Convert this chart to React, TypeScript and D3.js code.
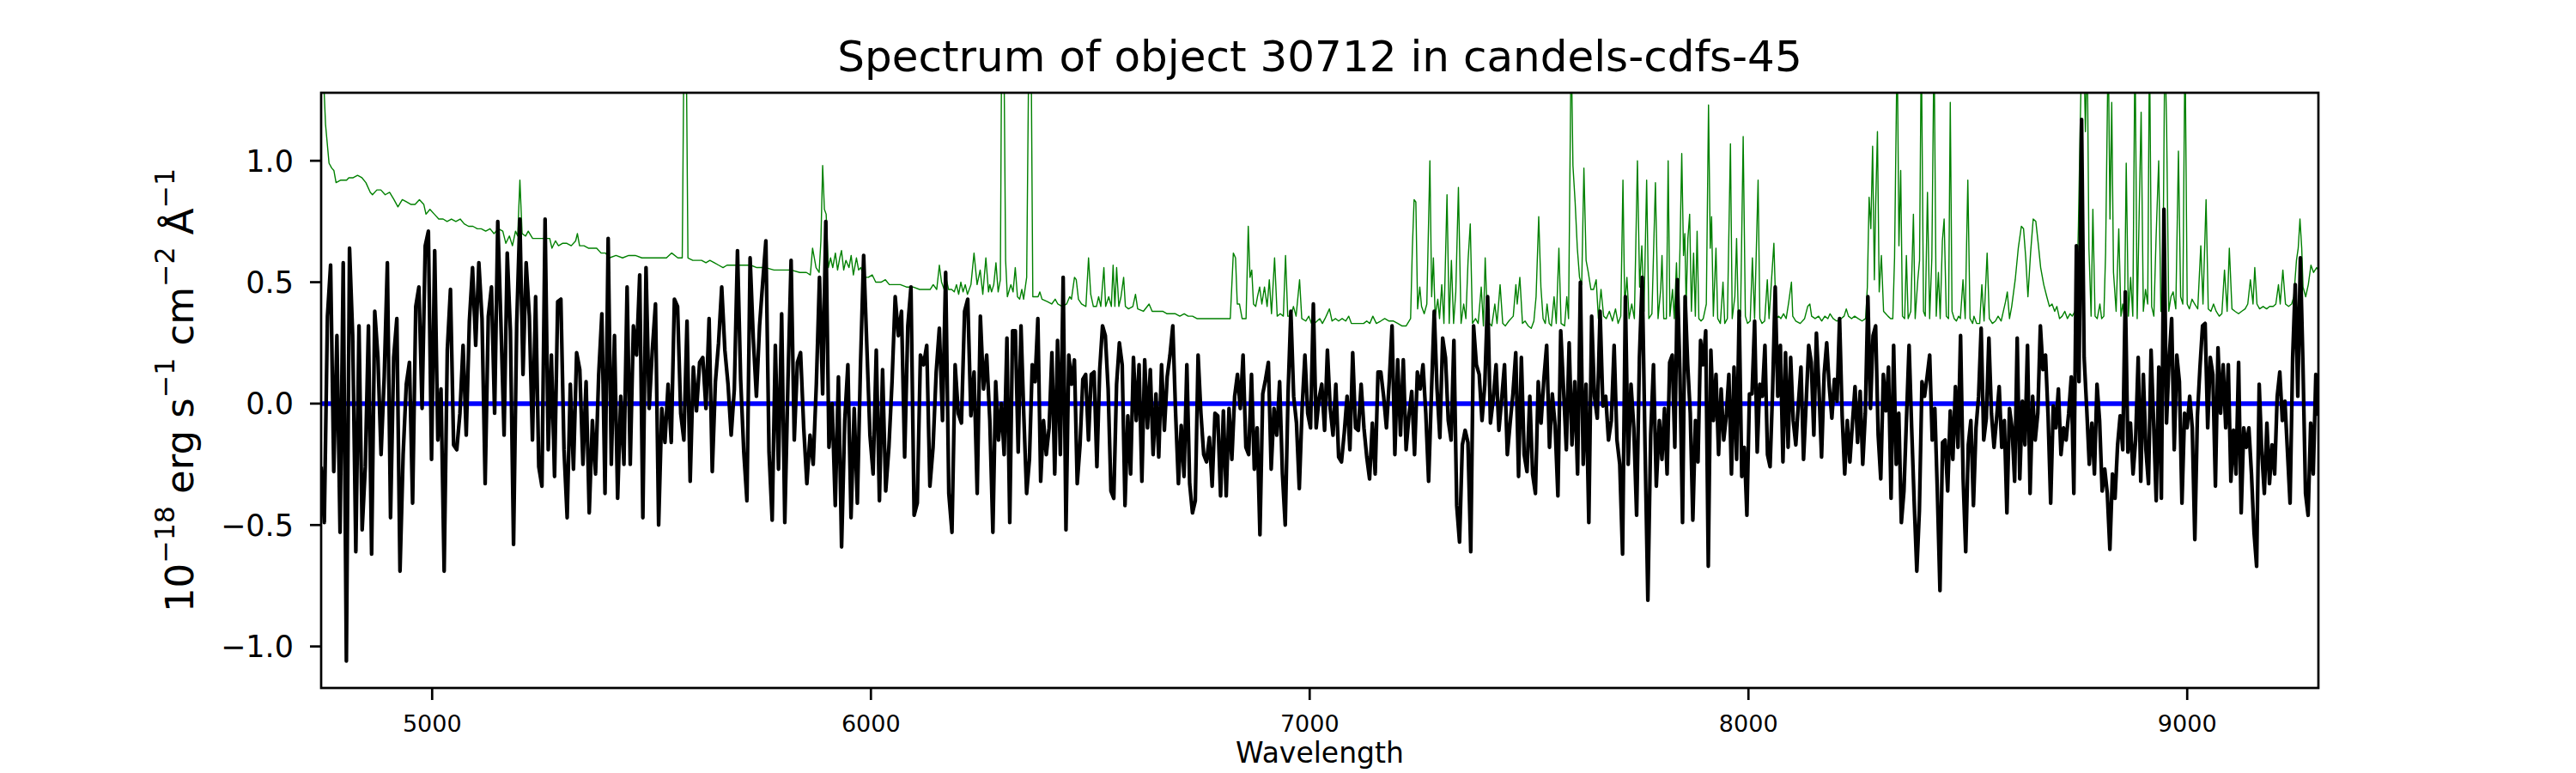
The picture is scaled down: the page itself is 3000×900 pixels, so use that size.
import React from "react";
import * as d3 from "d3";

const width = 3000;
const height = 900;
const plotLeft = 374;
const plotRight = 2700;
const plotTop = 108;
const plotBottom = 801;

const titleText = "Spectrum of object 30712 in candels-cdfs-45";
const xLabelText = "Wavelength";

const xDomain = [4747, 9299];
const yDomain = [-1.171, 1.28];
const xTicks = [5000, 6000, 7000, 8000, 9000];
const yTicks = [-1.0, -0.5, 0.0, 0.5, 1.0];

const fluxASpan = [4747, 6271];
const fluxA = [
  -0.26, -0.49, 0.36, 0.57, -0.28, 0.28, -0.53, 0.58, -1.06, 0.64, 0.28, -0.61, 0.32, -0.52, -0.26, 0.32,
  -0.62, 0.38, 0.19, -0.21, 0.11, 0.58, -0.47, 0.19, 0.35, -0.69, -0.21, 0.08, 0.17, -0.41, 0.4, 0.48,
  -0.02, 0.65, 0.71, -0.23, 0.63, -0.15, 0.06, -0.69, 0.22, 0.47, -0.17, -0.19, -0.04, 0.24, -0.13, 0.34,
  0.56, 0.24, 0.58, 0.35, -0.33, 0.36, 0.48, -0.04, 0.75, 0.33, -0.13, 0.62, 0.3, -0.58, 0.33, 0.76,
  0.12, 0.58, 0.36, -0.15, 0.44, -0.26, -0.34, 0.76, -0.19, 0.2, -0.3, 0.42, 0.43, -0.19, -0.47, 0.08,
  -0.27, 0.21, 0.14, -0.25, 0.09, -0.45, -0.07, -0.29, 0.12, 0.37, -0.37, 0.68, -0.25, 0.28, -0.39, 0.03,
  -0.25, 0.48, -0.25, 0.32, 0.2, 0.53, -0.47, 0.56, -0.02, 0.22, 0.41, -0.5, -0.02, -0.16, 0.08, -0.16,
  0.43, 0.4, -0.04, -0.15, 0.34, -0.32, 0.15, -0.03, 0.17, 0.19, -0.02, 0.35, -0.28, 0.09, 0.25, 0.48,
  0.22, 0.08, -0.13, 0.06, 0.63, 0.1, -0.2, -0.4, 0.6, 0.27, 0.03, 0.32, 0.5, 0.67, -0.2, -0.48,
  0.24, -0.27, 0.37, -0.49, 0.09, 0.59, -0.15, 0.17, 0.21, -0.1, -0.33, -0.13, -0.25, 0.08, 0.52, 0.04,
  0.75, -0.18, 0.0, -0.42, 0.11, -0.59, -0.07, 0.16, -0.47, -0.02, -0.41, 0.16, 0.61, 0.24, -0.13, -0.29,
  0.22, -0.4, 0.14, -0.36, -0.18, 0.09, 0.44, 0.28, 0.38, -0.22, 0.32, 0.48, -0.46, -0.41, 0.2, 0.16,
  0.24, -0.34, -0.18, 0.13, 0.31, -0.07, 0.54, -0.37, -0.53, 0.16, -0.04, -0.08, 0.38, 0.43, -0.05, 0.13,
  -0.37, 0.36, 0.06, 0.2, -0.07,
];

const fluxBSpan = [6278, 7790];
const fluxB = [
  -0.53, 0.09, -0.15, 0.0, -0.21, 0.27, -0.49, 0.3, 0.3, -0.2, 0.32, -0.05, -0.37, -0.23, 0.16, 0.09,
  0.35, -0.32, -0.07, -0.21, -0.1, 0.21, -0.29, 0.26, -0.21, 0.52, -0.52, 0.2, 0.08, 0.18, -0.33, -0.17,
  0.1, 0.12, -0.15, 0.12, 0.13, -0.26, 0.14, 0.32, 0.28, 0.06, -0.36, -0.39, 0.08, 0.25, 0.16, -0.42,
  -0.05, -0.29, 0.19, -0.07, 0.16, -0.32, 0.18, -0.1, 0.14, -0.21, 0.04, -0.22, 0.16, -0.11, 0.11, 0.2,
  0.32, -0.04, -0.33, -0.09, -0.3, 0.16, -0.33, -0.45, -0.4, 0.2, -0.04, -0.21, -0.24, -0.14, -0.34, -0.04,
  -0.05, -0.38, -0.03, -0.38, -0.02, -0.23, 0.03, 0.12, -0.02, 0.2, -0.18, -0.21, 0.12, -0.27, -0.1, -0.54,
  0.04, 0.1, 0.17, -0.27, -0.02, -0.13, 0.09, -0.29, -0.5, 0.04, 0.38, 0.03, -0.08, -0.35, -0.02, 0.2,
  -0.04, -0.1, 0.41, -0.1, 0.02, 0.08, -0.11, 0.22, -0.02, -0.13, 0.08, -0.22, -0.24, -0.12, 0.03, -0.19,
  0.21, -0.1, -0.11, 0.08, -0.1, -0.22, -0.31, -0.08, -0.29, 0.13, 0.13, 0.03, -0.1, 0.09, 0.32, -0.21,
  0.18, -0.13, 0.18, -0.19, -0.05, 0.05, -0.21, 0.13, 0.06, 0.16, -0.04, -0.32, 0.04, 0.38, 0.06, -0.14,
  0.27, 0.19, -0.07, -0.15, 0.26, -0.42, -0.57, -0.17, -0.11, -0.16, -0.61, 0.32, 0.16, 0.12, -0.07, 0.08,
  0.44, -0.08, 0.02, 0.16, -0.11, 0.02, 0.16, -0.21, -0.08, 0.04, 0.21, -0.3, 0.19, -0.21, -0.28, 0.03,
  -0.29, -0.37, 0.09, -0.08, 0.1, 0.24, -0.18, 0.04, -0.09, -0.38, 0.3, 0.06, -0.19, 0.25, -0.17, 0.09,
  -0.29, 0.5, -0.25, 0.08, -0.49, 0.36, 0.03, -0.06, 0.38, -0.01, 0.03, -0.15, -0.07, 0.24, -0.15, -0.25,
  -0.62, 0.44, -0.25, 0.08, -0.1, -0.46, 0.19, 0.52, -0.18, -0.81, -0.13, 0.16, -0.34,
];

const fluxCSpan = [7797, 9299];
const fluxC = [
  -0.07, -0.23, -0.02, -0.29, 0.17, 0.2, -0.18, 0.51, 0.12, -0.49, 0.44, 0.16, -0.04, -0.48, -0.07, -0.24,
  0.26, 0.16, 0.3, -0.67, 0.22, -0.07, 0.12, -0.21, 0.06, -0.15, -0.05, 0.12, -0.29, 0.15, -0.23, 0.38,
  -0.3, -0.18, -0.46, 0.04, 0.04, 0.34, -0.2, 0.08, 0.03, 0.24, -0.21, -0.26, 0.06, 0.48, 0.03, 0.24,
  -0.24, 0.21, -0.18, 0.19, -0.07, -0.17, 0.0, 0.15, -0.23, 0.0, 0.24, 0.17, -0.13, 0.29, 0.06, -0.22,
  0.12, 0.25, 0.07, -0.06, 0.1, 0.01, 0.35, -0.05, -0.29, -0.07, -0.24, -0.08, 0.07, -0.16, 0.05, -0.25,
  -0.04, 0.44, -0.02, 0.28, 0.32, -0.13, -0.31, 0.12, -0.03, 0.15, -0.39, 0.24, -0.25, -0.04, -0.49, -0.36,
  -0.06, 0.24, -0.1, -0.41, -0.69, -0.44, 0.09, 0.03, 0.11, 0.2, -0.15, -0.02, -0.37, -0.77, -0.16, -0.15,
  -0.36, -0.03, -0.23, 0.07, -0.18, 0.28, -0.31, -0.61, -0.17, -0.07, -0.42, -0.1, 0.03, 0.31, -0.15, -0.06,
  0.27, -0.04, -0.18, -0.06, 0.07, -0.18, -0.07, -0.45, -0.02, -0.1, -0.32, 0.27, -0.31, 0.01, -0.17, 0.24,
  -0.37, 0.03, -0.15, -0.04, 0.32, 0.14, 0.2, -0.05, -0.41, -0.01, -0.1, 0.06, -0.21, -0.1, -0.15, -0.04,
  0.11, -0.37, 0.65, 0.09, 1.17, 0.19, -0.02, -0.25, -0.08, -0.29, 0.08, -0.07, -0.36, -0.27, -0.37, -0.6,
  -0.29, -0.39, -0.17, -0.05, -0.19, 0.46, -0.2, -0.08, -0.29, -0.15, 0.19, -0.32, 0.12, -0.19, -0.33, 0.22,
  -0.08, -0.4, 0.15, -0.39, 0.8, -0.08, 0.18, 0.35, -0.19, 0.2, 0.09, -0.41, -0.04, -0.1, 0.03, -0.1,
  -0.56, -0.05, 0.15, 0.32, 0.33, -0.1, 0.19, 0.12, -0.34, 0.23, -0.04, 0.16, -0.1, 0.16, -0.32, -0.11,
  -0.29, 0.17, -0.45, -0.1, -0.18, -0.1, -0.29, -0.53, -0.67, 0.08, -0.2, -0.37, -0.08, -0.33, -0.17, -0.29,
  0.03, 0.13, -0.07, 0.01, -0.2, -0.41, 0.19, 0.49, 0.03, 0.6, 0.16, -0.37, -0.46, -0.08, -0.29, 0.12,
  -0.05,
];

// noise spectrum as [wavelength, value] pairs (sky lines reach past the top)
const noiseA: [number, number][] = [
  [4750, 1.45], [4757, 1.15], [4765, 0.99], [4771, 0.97], [4776, 0.96], [4781, 0.91], [4791, 0.92], [4805, 0.92],
  [4810, 0.93], [4820, 0.93], [4830, 0.94], [4840, 0.93], [4849, 0.91], [4859, 0.87], [4864, 0.86], [4874, 0.88],
  [4883, 0.88], [4893, 0.86], [4903, 0.87], [4913, 0.84], [4922, 0.81], [4932, 0.84], [4942, 0.83], [4952, 0.82],
  [4961, 0.82], [4971, 0.84], [4981, 0.82], [4986, 0.78], [4995, 0.8], [5005, 0.78], [5015, 0.76], [5025, 0.76],
  [5034, 0.75], [5044, 0.76], [5054, 0.75], [5064, 0.76], [5073, 0.74], [5083, 0.73], [5093, 0.73], [5103, 0.72],
  [5112, 0.72], [5122, 0.71], [5132, 0.72], [5141, 0.7], [5151, 0.72], [5161, 0.71], [5168, 0.66], [5176, 0.69],
  [5183, 0.65], [5190, 0.71], [5195, 0.69], [5200, 0.92], [5205, 0.7], [5213, 0.69], [5219, 0.71], [5229, 0.68],
  [5239, 0.68], [5249, 0.68], [5258, 0.68], [5268, 0.68], [5273, 0.64], [5281, 0.67], [5288, 0.65], [5297, 0.66],
  [5307, 0.66], [5317, 0.65], [5327, 0.67], [5331, 0.7], [5336, 0.65], [5346, 0.65], [5356, 0.64], [5366, 0.64],
  [5375, 0.64], [5385, 0.62], [5395, 0.62], [5404, 0.6], [5419, 0.61], [5434, 0.6], [5448, 0.61], [5463, 0.61],
  [5478, 0.6], [5492, 0.6], [5507, 0.6], [5521, 0.6], [5534, 0.6], [5546, 0.62], [5560, 0.6], [5570, 0.6],
  [5574, 1.5], [5579, 1.5], [5583, 0.6], [5594, 0.59], [5604, 0.59], [5614, 0.59], [5624, 0.58], [5633, 0.59],
  [5643, 0.58], [5653, 0.57], [5663, 0.56], [5672, 0.57], [5682, 0.57], [5697, 0.57], [5711, 0.57], [5726, 0.57],
  [5740, 0.56], [5760, 0.56], [5779, 0.55], [5799, 0.55], [5818, 0.55], [5838, 0.54], [5853, 0.54], [5862, 0.53],
  [5867, 0.64], [5875, 0.56], [5882, 0.54], [5886, 0.67], [5890, 0.98], [5894, 0.8], [5898, 0.78], [5903, 0.56],
  [5908, 0.6], [5913, 0.56], [5919, 0.62], [5924, 0.55], [5929, 0.6], [5933, 0.63], [5938, 0.55], [5943, 0.59],
  [5950, 0.56], [5955, 0.61], [5960, 0.53], [5967, 0.6], [5972, 0.55], [5977, 0.56], [5984, 0.52], [5994, 0.52],
  [6003, 0.53], [6011, 0.5], [6023, 0.5], [6033, 0.51], [6042, 0.49], [6052, 0.49], [6067, 0.49], [6081, 0.48],
  [6096, 0.48], [6111, 0.47], [6125, 0.47], [6135, 0.47], [6142, 0.49], [6150, 0.47], [6156, 0.57], [6161, 0.5],
  [6167, 0.47], [6171, 0.52], [6177, 0.47], [6184, 0.47], [6190, 0.46], [6195, 0.49], [6200, 0.45], [6205, 0.5],
  [6210, 0.46], [6215, 0.49], [6220, 0.45], [6228, 0.49], [6235, 0.62], [6242, 0.49], [6249, 0.55], [6255, 0.45],
  [6262, 0.6], [6268, 0.46],
];

const noiseB: [number, number][] = [
  [6271, 0.49], [6275, 0.46], [6280, 0.49], [6285, 0.58], [6290, 0.46], [6295, 0.51], [6298, 1.5], [6303, 1.5],
  [6307, 0.59], [6311, 0.44], [6319, 0.49], [6324, 0.46], [6329, 0.56], [6334, 0.44], [6339, 0.43], [6344, 0.47],
  [6348, 0.43], [6355, 0.52], [6360, 1.5], [6365, 1.5], [6369, 0.44], [6375, 0.44], [6381, 0.44], [6385, 0.46],
  [6390, 0.43], [6402, 0.42], [6412, 0.41], [6420, 0.43], [6426, 0.41], [6436, 0.4], [6446, 0.41], [6453, 0.44],
  [6457, 0.43], [6464, 0.52], [6468, 0.51], [6473, 0.43], [6480, 0.41], [6490, 0.4], [6496, 0.6], [6501, 0.45],
  [6507, 0.4], [6514, 0.4], [6519, 0.44], [6524, 0.4], [6531, 0.56], [6535, 0.4], [6542, 0.44], [6548, 0.4],
  [6552, 0.57], [6556, 0.4], [6560, 0.56], [6565, 0.4], [6570, 0.44], [6576, 0.52], [6580, 0.4], [6587, 0.39],
  [6597, 0.4], [6603, 0.45], [6608, 0.39], [6621, 0.38], [6634, 0.41], [6641, 0.38], [6655, 0.38], [6665, 0.38],
  [6675, 0.37], [6684, 0.37], [6694, 0.37], [6704, 0.36], [6714, 0.37], [6723, 0.36], [6733, 0.36], [6743, 0.35],
  [6757, 0.35], [6772, 0.35], [6787, 0.35], [6801, 0.35], [6819, 0.35], [6826, 0.62], [6831, 0.6], [6835, 0.41],
  [6840, 0.41], [6846, 0.35], [6855, 0.35], [6860, 0.73], [6864, 0.52], [6868, 0.55], [6872, 0.41], [6877, 0.4],
  [6881, 0.44], [6886, 0.48], [6891, 0.41], [6897, 0.48], [6903, 0.4], [6908, 0.51], [6913, 0.37], [6920, 0.6],
  [6926, 0.36], [6933, 0.37], [6940, 0.36], [6945, 0.61], [6950, 0.36], [6957, 0.36], [6963, 0.4], [6969, 0.36],
  [6977, 0.51], [6982, 0.35], [6991, 0.34], [6998, 0.36], [7004, 0.33], [7011, 0.33], [7017, 0.34], [7023, 0.35],
  [7029, 0.33], [7035, 0.35], [7045, 0.39], [7051, 0.34], [7059, 0.35], [7066, 0.34], [7074, 0.35], [7082, 0.34],
  [7089, 0.36], [7095, 0.33], [7108, 0.33], [7123, 0.33], [7130, 0.34], [7137, 0.33], [7144, 0.36], [7152, 0.33],
  [7162, 0.34], [7171, 0.35], [7181, 0.34], [7191, 0.34], [7201, 0.33], [7210, 0.32], [7220, 0.32], [7230, 0.35],
  [7234, 0.64], [7238, 0.84], [7242, 0.83], [7246, 0.39], [7251, 0.48], [7255, 0.4], [7261, 0.37], [7267, 0.41],
  [7274, 1.0], [7278, 0.44], [7282, 0.6], [7286, 0.36], [7292, 0.43], [7296, 0.35], [7301, 0.49], [7306, 0.33],
  [7313, 0.86], [7318, 0.33], [7323, 0.59], [7328, 0.33], [7333, 0.46], [7339, 0.89], [7345, 0.33], [7351, 0.41],
  [7356, 0.35], [7361, 0.59], [7366, 0.74], [7371, 0.33], [7378, 0.35], [7384, 0.33], [7391, 0.48], [7396, 0.32],
  [7400, 0.6], [7405, 0.35], [7410, 0.33], [7415, 0.32], [7422, 0.41], [7427, 0.33], [7434, 0.49], [7440, 0.33],
  [7446, 0.32], [7454, 0.34], [7464, 0.36], [7470, 0.49], [7473, 0.41], [7479, 0.52], [7485, 0.33], [7491, 0.34],
  [7498, 0.32], [7505, 0.31], [7511, 0.34], [7516, 0.44], [7522, 0.77], [7527, 0.48], [7532, 0.35], [7537, 0.33],
  [7541, 0.41], [7546, 0.33], [7551, 0.32], [7557, 0.44], [7562, 0.33], [7568, 0.64], [7573, 0.33], [7581, 0.32],
  [7586, 0.44], [7590, 0.35], [7596, 1.5], [7600, 0.98], [7605, 0.83], [7610, 0.64], [7615, 0.52], [7620, 0.49],
  [7625, 0.97], [7630, 0.59], [7635, 0.54], [7641, 0.47], [7647, 0.47], [7653, 0.51], [7658, 0.35], [7664, 0.47],
  [7670, 0.36], [7676, 0.35], [7683, 0.38], [7690, 0.34], [7697, 0.39], [7703, 0.33], [7709, 0.36], [7714, 0.92],
  [7718, 0.4], [7723, 0.52], [7728, 0.35], [7734, 0.41], [7740, 0.35], [7747, 1.0], [7752, 0.48], [7757, 0.65],
  [7762, 0.38], [7768, 0.92], [7773, 0.35], [7780, 0.37], [7788, 0.91],
];

const noiseC: [number, number][] = [
  [7794, 0.35], [7800, 0.47], [7803, 0.61], [7807, 0.35], [7813, 0.35], [7817, 1.0], [7821, 0.36], [7827, 0.47],
  [7831, 0.35], [7836, 0.58], [7840, 0.35], [7844, 0.64], [7848, 1.03], [7852, 0.61], [7855, 0.7], [7858, 0.4],
  [7862, 0.68], [7866, 0.78], [7870, 0.38], [7875, 0.62], [7879, 0.36], [7883, 0.71], [7887, 0.35], [7892, 0.34],
  [7897, 0.35], [7904, 0.41], [7909, 1.23], [7913, 0.64], [7916, 0.77], [7920, 0.36], [7926, 0.64], [7930, 0.35],
  [7936, 0.33], [7942, 0.5], [7946, 0.33], [7952, 0.35], [7959, 1.07], [7963, 0.35], [7969, 0.44], [7973, 0.68],
  [7977, 0.35], [7982, 0.36], [7988, 1.1], [7993, 0.36], [7998, 0.33], [8004, 0.34], [8009, 0.6], [8014, 0.35],
  [8022, 0.92], [8026, 0.35], [8031, 0.33], [8037, 0.34], [8043, 0.51], [8047, 0.35], [8053, 0.52], [8058, 0.66],
  [8063, 0.35], [8069, 0.36], [8074, 0.35], [8080, 0.37], [8086, 0.35], [8092, 0.42], [8098, 0.5], [8101, 0.36],
  [8108, 0.34], [8118, 0.33], [8128, 0.35], [8135, 0.4], [8140, 0.41], [8144, 0.36], [8152, 0.35], [8160, 0.36],
  [8167, 0.34], [8174, 0.36], [8181, 0.35], [8186, 0.37], [8193, 0.35], [8201, 0.34], [8211, 0.35], [8218, 0.36],
  [8223, 0.39], [8228, 0.36], [8235, 0.35], [8242, 0.36], [8250, 0.35], [8259, 0.34], [8267, 0.35], [8271, 0.48],
  [8275, 0.85], [8279, 0.72], [8283, 1.06], [8287, 0.51], [8290, 0.82], [8294, 1.12], [8298, 0.46], [8303, 0.61],
  [8308, 0.38], [8313, 0.37], [8318, 0.36], [8324, 0.35], [8329, 0.35], [8333, 0.6], [8339, 1.5], [8343, 0.65],
  [8347, 0.96], [8351, 0.36], [8356, 0.35], [8360, 0.61], [8364, 0.35], [8370, 0.38], [8376, 0.78], [8380, 0.35],
  [8386, 0.51], [8390, 0.59], [8394, 1.5], [8399, 0.38], [8403, 0.36], [8408, 0.87], [8413, 0.35], [8418, 0.6],
  [8423, 1.5], [8428, 0.36], [8433, 0.54], [8437, 0.35], [8442, 0.67], [8446, 0.76], [8451, 0.36], [8456, 0.35],
  [8460, 1.24], [8464, 0.38], [8469, 0.35], [8474, 0.34], [8479, 0.36], [8483, 0.35], [8489, 0.51], [8494, 0.35],
  [8500, 0.92], [8505, 0.35], [8511, 0.33], [8514, 0.36], [8520, 0.33], [8527, 0.33], [8532, 0.49], [8537, 0.34],
  [8544, 0.62], [8549, 0.35], [8556, 0.33], [8563, 0.34], [8569, 0.36], [8576, 0.34], [8581, 0.38], [8586, 0.42],
  [8590, 0.46], [8595, 0.35], [8600, 0.4], [8608, 0.51], [8615, 0.64], [8622, 0.73], [8627, 0.72], [8632, 0.6],
  [8637, 0.44], [8643, 0.62], [8649, 0.76], [8655, 0.75], [8661, 0.65], [8666, 0.56], [8673, 0.49], [8680, 0.44],
  [8686, 0.4], [8692, 0.41], [8698, 0.38], [8703, 0.4], [8709, 0.35], [8715, 0.36], [8721, 0.38], [8727, 0.35],
  [8733, 0.37], [8738, 0.36], [8744, 0.38], [8748, 0.41], [8752, 0.73], [8756, 1.13], [8760, 1.5], [8764, 1.5],
  [8768, 1.12], [8772, 1.5], [8776, 0.64], [8781, 0.36], [8785, 0.8], [8790, 0.36], [8795, 0.35], [8801, 0.41],
  [8805, 0.35], [8810, 0.36], [8814, 0.62], [8820, 1.5], [8824, 0.76], [8828, 1.24], [8832, 0.54], [8838, 0.38],
  [8844, 0.72], [8849, 0.36], [8853, 0.41], [8857, 0.35], [8861, 0.99], [8866, 0.36], [8871, 0.52], [8876, 0.36],
  [8881, 1.5], [8886, 0.35], [8891, 0.83], [8895, 1.2], [8900, 0.38], [8905, 0.47], [8910, 0.41], [8914, 1.5],
  [8919, 0.4], [8924, 0.36], [8929, 0.68], [8935, 1.0], [8940, 0.38], [8944, 0.38], [8949, 1.5], [8953, 1.15],
  [8958, 0.38], [8963, 0.44], [8968, 0.46], [8974, 0.39], [8980, 1.04], [8985, 0.44], [8990, 0.41], [8995, 1.5],
  [9000, 0.41], [9005, 0.39], [9011, 0.43], [9017, 0.41], [9024, 0.39], [9031, 0.65], [9036, 0.41], [9043, 0.84],
  [9048, 0.39], [9054, 0.38], [9060, 0.41], [9066, 0.38], [9073, 0.36], [9079, 0.37], [9085, 0.55], [9091, 0.38],
  [9096, 0.64], [9102, 0.39], [9109, 0.38], [9117, 0.37], [9124, 0.38], [9132, 0.39], [9138, 0.41], [9144, 0.51],
  [9150, 0.41], [9154, 0.56], [9159, 0.41], [9165, 0.39], [9173, 0.4], [9181, 0.39], [9188, 0.4], [9196, 0.4],
  [9202, 0.41], [9208, 0.49], [9212, 0.41], [9218, 0.55], [9224, 0.41], [9231, 0.4], [9238, 0.41], [9243, 0.44],
  [9249, 0.59], [9253, 0.64], [9257, 0.76], [9261, 0.64], [9264, 0.48], [9270, 0.44], [9276, 0.49], [9282, 0.57],
  [9288, 0.54], [9295, 0.56], [9299, 0.55],
];

const font = "'DejaVu Sans', sans-serif";

function onGrid(values: number[], span: number[]): [number, number][] {
  const step = (span[1] - span[0]) / (values.length - 1);
  return values.map((v, i) => [span[0] + i * step, v]);
}

export default function App() {
  const x = d3.scaleLinear().domain(xDomain).range([plotLeft, plotRight]);
  const y = d3.scaleLinear().domain(yDomain).range([plotBottom, plotTop]);
  const line = d3
    .line<[number, number]>()
    .x((d) => x(d[0]))
    .y((d) => y(d[1]));

  const flux = [...onGrid(fluxA, fluxASpan), ...onGrid(fluxB, fluxBSpan), ...onGrid(fluxC, fluxCSpan)];
  const noise = [...noiseA, ...noiseB, ...noiseC];
  const fmtY = d3.format(".1f");
  const midX = (plotLeft + plotRight) / 2;
  const midY = (plotTop + plotBottom) / 2;

  return (
    <svg
      width={width}
      height={height}
      style={{ position: "absolute", left: 0, top: 0, background: "#fff" }}
      fontFamily={font}
    >
      <defs>
        <clipPath id="plot-area">
          <rect x={plotLeft} y={plotTop} width={plotRight - plotLeft} height={plotBottom - plotTop} />
        </clipPath>
      </defs>

      <g clipPath="url(#plot-area)" fill="none" strokeLinejoin="round">
        <path d={line(noise) ?? ""} stroke="#008000" strokeWidth={1.4} />
        <path d={line([[xDomain[0], 0], [xDomain[1], 0]]) ?? ""} stroke="#0000ff" strokeWidth={5.5} />
        <path d={line(flux) ?? ""} stroke="#000" strokeWidth={4.3} />
      </g>

      <rect
        x={plotLeft}
        y={plotTop}
        width={plotRight - plotLeft}
        height={plotBottom - plotTop}
        fill="none"
        stroke="#000"
        strokeWidth={2.7}
      />

      {xTicks.map((t) => (
        <g key={t}>
          <line x1={x(t)} x2={x(t)} y1={plotBottom} y2={plotBottom + 14} stroke="#000" strokeWidth={2.7} />
          <text x={x(t)} y={852} fontSize={27} textAnchor="middle">
            {t}
          </text>
        </g>
      ))}

      {yTicks.map((t) => (
        <g key={t}>
          <line x1={plotLeft - 13} x2={plotLeft} y1={y(t)} y2={y(t)} stroke="#000" strokeWidth={2.7} />
          <text x={342} y={y(t) + 12.5} fontSize={35} textAnchor="end">
            {fmtY(t)}
          </text>
        </g>
      ))}

      <text x={midX} y={83} fontSize={50} textAnchor="middle">
        {titleText}
      </text>
      <text x={midX} y={888} fontSize={33} textAnchor="middle">
        {xLabelText}
      </text>

      <text transform={`translate(225,${midY}) rotate(-90)`} fontSize={45} textAnchor="middle">
        <tspan>10</tspan>
        <tspan fontSize={31.5} dy={-22}>−18</tspan>
        <tspan dy={22}> erg s</tspan>
        <tspan fontSize={31.5} dy={-22}>−1</tspan>
        <tspan dy={22}> cm</tspan>
        <tspan fontSize={31.5} dy={-22}>−2</tspan>
        <tspan dy={22}> Å</tspan>
        <tspan fontSize={31.5} dy={-22}>−1</tspan>
      </text>
    </svg>
  );
}
